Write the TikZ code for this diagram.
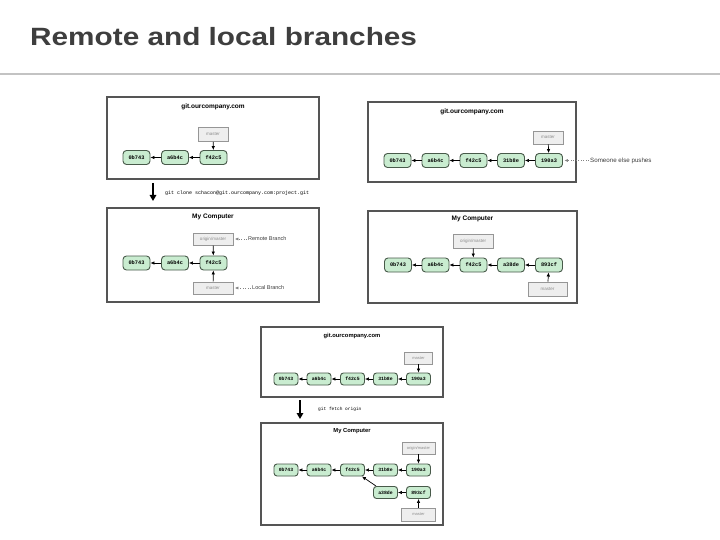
\documentclass[tikz,border=0pt]{standalone}
\usepackage{fontspec}
\setmainfont{Liberation Sans}
\setmonofont{Liberation Mono}
\newfontfamily\headfont{Liberation Sans}[FakeStretch=1.19]
\usetikzlibrary{arrows.meta, positioning}
\definecolor{xTitle}{RGB}{62,62,62}
\definecolor{xRule}{RGB}{195,195,195}
\definecolor{xFrame}{RGB}{85,85,85}
\definecolor{xCommit}{RGB}{201,236,208}
\definecolor{xEdge}{RGB}{72,90,74}
\definecolor{xRef}{RGB}{238,238,238}
\definecolor{xRefLine}{RGB}{150,150,150}
\definecolor{xRefText}{RGB}{140,140,140}
\definecolor{xNote}{RGB}{60,60,60}
\definecolor{xDots}{RGB}{130,130,130}
\tikzset{
  panel/.style={draw=xFrame, line width=1.1pt, fill=white, inner sep=0pt},
  host/.style={font=\bfseries\fontsize{6.5}{7}\selectfont, inner sep=0pt},
  commit/.style={draw=xEdge, line width=0.9pt, fill=xCommit, rounded corners=3.5pt, inner sep=0pt,
                 minimum width=27pt, minimum height=14pt, font=\ttfamily\bfseries\fontsize{5.3}{6}\selectfont},
  scommit/.style={commit, minimum width=24pt, minimum height=12pt, rounded corners=3pt,
                 font=\ttfamily\bfseries\fontsize{4.8}{5}\selectfont},
  ref/.style={draw=xRefLine, line width=0.8pt, fill=xRef, inner sep=0pt, text=xRefText,
              font=\fontsize{4.5}{5}\selectfont},
  parent/.style={-{Latex[length=4pt,width=3.6pt]}, line width=0.7pt},
  pointer/.style={-{Latex[length=4pt,width=3.6pt]}, line width=0.7pt},
  note/.style={-{Latex[length=3.5pt,width=3pt]}, line width=0.5pt, xDots, dotted,
               shorten >=1.5pt, shorten <=1.5pt},
  notetext/.style={font=\fontsize{5.5}{6}\selectfont, text=xNote, anchor=west, inner sep=0pt},
  move/.style={-{Triangle[length=6pt,width=6.5pt]}, line width=1.7pt},
  cmd/.style={font=\ttfamily\fontsize{5}{6}\selectfont, anchor=west, inner sep=0pt},
}

\begin{document}
\begin{tikzpicture}[x=1pt, y=-1pt]
  \useasboundingbox (0,0) rectangle (720,540);
  \node[anchor=base west, inner sep=0pt, text=xTitle, font=\headfont\bfseries\fontsize{25}{30}\selectfont]
    (title) at (30,46) {Remote and local branches};
  \draw[xRule, line width=1.6pt] (0,74) -- (720,74);

  % clone: server
  \node[panel, minimum width=212pt, minimum height=82pt] (pA) at (213,138) {};
  \node[host] (hA) at (213,107) {git.ourcompany.com};
  \node[ref, minimum width=30pt, minimum height=14pt] (am) at (213,134.5) {master};
  \node[commit] (a1) at (136.5,157.5) {0b743};
  \node[commit] (a2) at (175,157.5) {a6b4c};
  \node[commit] (a3) at (213.5,157.5) {f42c5};
  \draw[parent] (a2) -- (a1);
  \draw[parent] (a3) -- (a2);
  \draw[pointer] (am) -- (a3);

  \coordinate (s1) at (153,183);
  \coordinate (e1) at (153,201);
  \draw[move] (s1) -- (e1);
  \node[cmd] (clone) at (165,193) {git clone schacon@git.ourcompany.com:project.git};

  % clone: local
  \node[panel, minimum width=212pt, minimum height=94pt] (pB) at (213,255) {};
  \node[host] (hB) at (213,217) {My Computer};
  \node[ref, minimum width=40pt, minimum height=12pt] (bo) at (213,239) {origin/master};
  \node[commit] (b1) at (136.5,263) {0b743};
  \node[commit] (b2) at (175,263) {a6b4c};
  \node[commit] (b3) at (213.5,263) {f42c5};
  \node[ref, minimum width=40pt, minimum height=12pt] (bm) at (213,288) {master};
  \draw[parent] (b2) -- (b1);
  \draw[parent] (b3) -- (b2);
  \draw[pointer] (bo) -- (b3);
  \draw[pointer] (bm) -- (b3);
  \node[notetext] (rb) at (248,239) {Remote Branch};
  \node[notetext] (lb) at (252,288) {Local Branch};
  \draw[note] (rb) -- (bo);
  \draw[note] (lb) -- (bm);

  % server moved on
  \node[panel, minimum width=208pt, minimum height=80pt] (pC) at (472,142) {};
  \node[host] (hC) at (472,112) {git.ourcompany.com};
  \node[ref, minimum width=30pt, minimum height=13pt] (cm) at (548,137.5) {master};
  \node[commit] (c1) at (397.5,160.5) {0b743};
  \node[commit] (c2) at (435.5,160.5) {a6b4c};
  \node[commit] (c3) at (473.5,160.5) {f42c5};
  \node[commit] (c4) at (511,160.5) {31b8e};
  \node[commit] (c5) at (549,160.5) {190a3};
  \draw[parent] (c2) -- (c1);
  \draw[parent] (c3) -- (c2);
  \draw[parent] (c4) -- (c3);
  \draw[parent] (c5) -- (c4);
  \draw[pointer] (cm) -- (c5);
  \node[notetext, font=\fontsize{6.2}{7}\selectfont] (sp) at (590,160.5) {Someone else pushes};
  \draw[note] (sp) -- (c5);

  % local moved on
  \node[panel, minimum width=209pt, minimum height=92pt] (pD) at (472.5,257) {};
  \node[host] (hD) at (472.5,219) {My Computer};
  \node[ref, minimum width=40pt, minimum height=14pt] (do) at (473,241) {origin/master};
  \node[commit] (d1) at (398,265) {0b743};
  \node[commit] (d2) at (435.5,265) {a6b4c};
  \node[commit] (d3) at (473.5,265) {f42c5};
  \node[commit] (d4) at (511,265) {a38de};
  \node[commit] (d5) at (549,265) {893cf};
  \node[ref, minimum width=39pt, minimum height=14pt] (dm) at (547.5,289) {master};
  \draw[parent] (d2) -- (d1);
  \draw[parent] (d3) -- (d2);
  \draw[parent] (d4) -- (d3);
  \draw[parent] (d5) -- (d4);
  \draw[pointer] (do) -- (d3);
  \draw[pointer] (dm) -- (d5);

  % fetch: server
  \node[panel, minimum width=182pt, minimum height=70pt] (pE) at (352,362) {};
  \node[host, font=\bfseries\fontsize{5.8}{6}\selectfont] (hE) at (352,336) {git.ourcompany.com};
  \node[ref, minimum width=28pt, minimum height=12pt, font=\fontsize{4}{5}\selectfont] (em) at (418.5,358) {master};
  \node[scommit] (e1) at (286,379) {0b743};
  \node[scommit] (e2) at (319,379) {a6b4c};
  \node[scommit] (e3) at (352.5,379) {f42c5};
  \node[scommit] (e4) at (385.5,379) {31b8e};
  \node[scommit] (e5) at (418.5,379) {190a3};
  \draw[parent] (e2) -- (e1);
  \draw[parent] (e3) -- (e2);
  \draw[parent] (e4) -- (e3);
  \draw[parent] (e5) -- (e4);
  \draw[pointer] (em) -- (e5);

  \coordinate (s2) at (300,400);
  \coordinate (e2end) at (300,419);
  \draw[move] (s2) -- (e2end);
  \node[cmd, font=\ttfamily\fontsize{4.5}{5}\selectfont] (fetch) at (318,409) {git fetch origin};

  % fetch: local
  \node[panel, minimum width=182pt, minimum height=102pt] (pF) at (352,474) {};
  \node[host, font=\bfseries\fontsize{5.8}{6}\selectfont] (hF) at (352,431) {My Computer};
  \node[ref, minimum width=33pt, minimum height=12pt, font=\fontsize{4}{5}\selectfont] (fo) at (418.5,448) {origin/master};
  \node[scommit] (f1) at (286,470) {0b743};
  \node[scommit] (f2) at (319,470) {a6b4c};
  \node[scommit] (f3) at (352.5,470) {f42c5};
  \node[scommit] (f4) at (385.5,470) {31b8e};
  \node[scommit] (f5) at (418.5,470) {190a3};
  \node[scommit] (g1) at (385.5,492.5) {a38de};
  \node[scommit] (g2) at (418.5,492.5) {893cf};
  \node[ref, minimum width=34pt, minimum height=13pt, font=\fontsize{4}{5}\selectfont] (fm) at (418.5,514.5) {master};
  \draw[parent] (f2) -- (f1);
  \draw[parent] (f3) -- (f2);
  \draw[parent] (f4) -- (f3);
  \draw[parent] (f5) -- (f4);
  \draw[parent] (g2) -- (g1);
  \draw[parent] (g1) -- (f3);
  \draw[pointer] (fo) -- (f5);
  \draw[pointer] (fm) -- (g2);
\end{tikzpicture}
\end{document}
